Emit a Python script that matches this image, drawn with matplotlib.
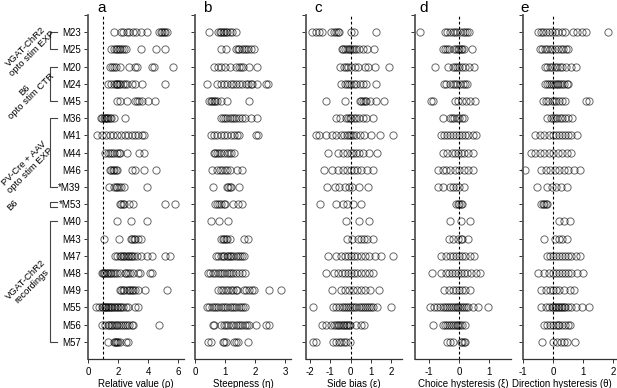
import matplotlib
matplotlib.use("Agg")
import matplotlib.pyplot as plt

plt.rcParams['font.family'] = ['Liberation Sans', 'DejaVu Sans']

mice = ["M23", "M25", "M20", "M24", "M45", "M36", "M41", "M44", "M46", "*M39",
        "*M53", "M40", "M43", "M47", "M48", "M49", "M55", "M56", "M57"]

groups = [("VGAT-ChR2\nopto stim EXP", 1, 2),
          ("B6\nopto stim CTR", 3, 5),
          ("PV-Cre + AAV\nopto stim EXP", 6, 10),
          ("B6", 11, 11),
          ("VGAT-ChR2\nrecordings", 12, 19)]

panel_letters = ["a", "b", "c", "d", "e"]
xlabels = ["Relative value (\u03c1)", "Steepness (\u03b7)", "Side bias (\u03b5)",
           "Choice hysteresis (\u03be)", "Direction hysteresis (\u03b8)"]
xticks = [[0, 2, 4, 6], [0, 1, 2, 3], [-2, -1, 0, 1, 2], [-1, 0, 1], [-1, 0, 1, 2]]
ref_lines = [1, None, 0, 0, 0]

rho = [
    [1.76, 2.2, 2.3, 2.6, 2.75, 3.0, 3.2, 3.5, 3.9, 4.75, 4.85, 4.95, 5.05, 5.15, 5.25],
    [1.5, 1.7, 1.85, 1.95, 2.05, 2.15, 2.25, 2.4, 2.55, 3.55, 4.5, 5.1],
    [1.45, 1.6, 1.75, 1.85, 2.15, 2.7, 3.1, 3.25, 4.25, 4.4, 5.65],
    [1.35, 1.55, 1.75, 1.85, 1.9, 1.95, 2.05, 2.15, 2.3, 2.45, 2.6, 2.9, 3.1, 3.6, 5.15],
    [1.95, 2.15, 2.6, 3.1, 3.25, 3.4, 3.6, 4.0, 4.45],
    [0.85, 0.95, 1.05, 1.1, 1.2, 1.25, 1.35, 1.45, 1.55, 1.75, 2.45],
    [0.58, 0.91, 1.2, 1.47, 1.69, 1.91, 2.18, 2.47, 2.69, 2.91, 3.13, 3.36, 3.58, 3.73],
    [1.1, 1.3, 1.45, 1.6, 1.75, 1.9, 2.05, 2.15, 2.6, 3.4, 3.75],
    [1.45, 1.55, 1.65, 1.75, 1.85, 1.95, 2.95, 3.1, 3.75, 4.55],
    [1.4, 1.75, 1.85, 1.95, 2.05, 2.2, 2.4, 3.95],
    [2.1, 2.2, 2.3, 2.4, 2.7, 3.0, 5.15, 5.8],
    [1.96, 2.84, 3.91],
    [1.05, 2.05, 2.85, 2.95, 3.05, 3.15, 3.3, 3.55],
    [1.8, 1.95, 2.1, 2.2, 2.3, 2.4, 2.55, 2.65, 2.75, 2.85, 2.95, 3.05, 3.25, 3.55, 3.9, 4.25, 5.15, 5.45],
    [0.9, 1.0, 1.05, 1.15, 1.25, 1.35, 1.45, 1.55, 1.65, 1.8, 1.95, 2.1, 2.45, 2.55, 2.65, 2.8, 3.0, 3.3, 3.45, 4.1, 4.25],
    [2.1, 2.2, 2.3, 2.4, 2.6, 2.7, 2.8, 2.9, 3.0, 3.15, 3.35, 3.8, 5.25],
    [0.55, 0.75, 0.9, 1.0, 1.1, 1.15, 1.2, 1.3, 1.35, 1.45, 1.5, 1.6, 1.7, 1.8, 1.9, 2.0, 2.1, 2.2, 2.35, 2.5, 2.65, 3.1, 3.3],
    [0.95, 1.15, 1.3, 1.4, 1.5, 1.6, 1.7, 1.85, 1.95, 2.05, 2.2, 2.3, 2.45, 2.6, 2.75, 2.9, 3.0, 4.7],
    [1.35, 1.7, 1.8, 1.85, 1.9, 2.0, 2.1, 2.55, 2.65],
]

eta = [
    [0.47, 0.75, 0.82, 0.88, 0.93, 0.98, 1.03, 1.08, 1.15, 1.22, 1.35],
    [0.85, 1.02, 1.35, 1.42, 1.48, 1.55, 1.62, 1.7, 1.78, 1.85, 1.95],
    [0.63, 0.75, 0.88, 1.0, 1.18, 1.35, 1.45, 1.52, 1.6, 1.8, 2.07],
    [0.41, 0.74, 0.86, 0.97, 1.08, 1.19, 1.27, 1.36, 1.47, 1.58, 1.69, 1.78, 1.86, 1.91, 2.08, 2.36, 2.44],
    [0.48, 0.53, 0.58, 0.62, 0.67, 0.72, 0.88, 1.08, 1.8],
    [0.85, 0.92, 1.0, 1.08, 1.15, 1.22, 1.3, 1.38, 1.45, 1.55, 1.65, 1.85, 2.07],
    [0.52, 0.63, 0.74, 0.86, 0.97, 1.08, 1.19, 1.3, 1.41, 1.47, 2.02, 2.11],
    [0.62, 0.68, 0.74, 0.8, 0.86, 0.98, 1.05, 1.12, 1.2, 1.3],
    [0.58, 0.74, 0.82, 0.91, 1.0, 1.08, 1.16, 1.41, 1.58],
    [0.6, 1.05, 1.1, 1.15, 1.2, 1.47],
    [0.65, 0.72, 0.8, 0.88, 0.95, 1.0, 1.25, 1.42, 1.58],
    [0.52, 0.8, 1.11],
    [0.88, 0.93, 0.98, 1.03, 1.08, 1.15, 1.63, 1.78],
    [0.7, 0.78, 0.85, 0.92, 0.98, 1.05, 1.1, 1.15, 1.2, 1.28, 1.35, 1.42, 1.5, 1.58, 1.63],
    [0.42, 0.5, 0.6, 0.68, 0.75, 0.82, 0.9, 0.98, 1.05, 1.12, 1.2, 1.28, 1.35, 1.45, 1.55, 1.65],
    [0.78, 0.86, 0.93, 1.02, 1.11, 1.19, 1.27, 1.36, 1.41, 1.63, 1.71, 1.8, 1.89, 1.97, 2.47, 2.86],
    [0.4, 0.48, 0.55, 0.62, 0.7, 0.78, 0.85, 0.92, 1.0, 1.08, 1.15, 1.22, 1.3, 1.38, 1.45, 1.52, 1.6, 1.65],
    [0.6, 0.62, 0.88, 0.95, 1.02, 1.1, 1.2, 1.28, 1.35, 1.42, 1.5, 1.58, 1.65, 1.72, 1.8, 2.03, 2.37, 2.47],
    [0.42, 0.52, 0.92, 0.98, 1.03, 1.3, 1.36, 1.42, 1.75],
]

eps = [
    [-1.9, -1.72, -1.56, -1.4, -0.95, -0.8, -0.7, -0.62, -0.55, 0.03, 0.15, 1.27],
    [-0.45, -0.38, -0.28, -0.18, -0.1, -0.02, 0.08, 0.18, 0.28, 0.4, 0.6, 0.8, 1.13],
    [-0.51, -0.34, -0.25, -0.13, 0.03, 0.2, 0.36, 0.69, 0.85, 1.18, 1.89],
    [-0.46, -0.3, -0.18, -0.08, 0.03, 0.15, 0.28, 0.44, 0.61, 0.77, 1.26],
    [-1.23, -0.3, 0.44, 0.52, 0.61, 0.69, 0.77, 0.93, 1.23, 1.62],
    [-0.7, -0.54, -0.25, -0.13, -0.05, 0.03, 0.15, 0.28, 0.41, 0.61, 0.77, 1.1],
    [-1.7, -1.55, -1.2, -0.9, -0.7, -0.5, -0.35, -0.2, -0.1, 0.0, 0.1, 0.25, 0.45, 0.65, 1.0, 1.45, 2.1],
    [-1.1, -0.6, -0.4, -0.2, 0.0, 0.1, 0.25, 0.4, 0.6, 0.9, 1.3],
    [-1.3, -0.9, -0.6, -0.4, -0.2, 0.0, 0.15, 0.3, 0.5, 0.8, 1.1],
    [-1.15, -0.75, -0.55, -0.3, -0.1, 0.05, 0.4, 0.85],
    [-1.5, -0.7, -0.4, -0.2, 0.1, 0.5],
    [-0.25, 0.4, 0.9],
    [-0.2, 0.05, 0.35, 0.5, 0.65, 0.8, 1.1],
    [-1.1, -0.7, -0.5, -0.3, -0.15, 0.0, 0.15, 0.3, 0.5, 0.7, 0.9, 1.2, 1.5, 2.1],
    [-1.2, -0.8, -0.6, -0.45, -0.3, -0.15, 0.0, 0.15, 0.3, 0.5, 0.7, 0.9, 1.1],
    [-0.9, -0.5, -0.3, -0.1, 0.1, 0.3, 0.5, 0.7, 0.95, 1.4],
    [-1.85, -0.85, -0.7, -0.55, -0.45, -0.35, -0.25, -0.15, -0.05, 0.05, 0.15, 0.25, 0.4, 0.5, 0.6, 0.7, 0.8, 0.9, 1.0, 1.1, 1.3, 1.97],
    [-1.4, -1.2, -0.95, -0.8, -0.7, -0.62, -0.55, -0.48, -0.4, -0.32, -0.25, -0.18, -0.1, -0.03, 0.28, 0.5, 0.68],
    [-1.86, -1.69, -0.87, -0.7, -0.57, -0.46, -0.34, -0.21, -0.05],
]

xi = [
    [-1.3, -0.47, -0.39, -0.3, -0.21, -0.13, -0.06, 0.03, 0.12, 0.2, 0.28, 0.34],
    [-0.55, -0.48, -0.4, -0.35, -0.17, -0.1, -0.05, 0.0, 0.05, 0.1, 0.17, 0.42],
    [-0.8, -0.36, -0.21, -0.13, -0.06, 0.01, 0.09, 0.2, 0.34, 0.5],
    [-0.52, -0.43, -0.32, -0.21, -0.13, -0.06, 0.03, 0.12, 0.2, 0.28],
    [-0.94, -0.86, -0.13, -0.02, 0.09, 0.23, 0.37, 0.53],
    [-0.54, -0.32, -0.24, -0.17, -0.08, 0.01, 0.09, 0.17],
    [-0.6, -0.5, -0.4, -0.3, -0.2, -0.1, 0.0, 0.1, 0.2, 0.3, 0.45, 0.55],
    [-0.55, -0.4, -0.25, -0.15, -0.05, 0.05, 0.15, 0.3, 0.45],
    [-0.7, -0.55, -0.45, -0.3, -0.15, 0.0, 0.15, 0.3, 0.45],
    [-0.7, -0.55, -0.3, -0.2, -0.1, 0.0, 0.15],
    [-0.1, -0.05, 0.0, 0.05, 0.1],
    [-0.3, 0.05, 0.35],
    [-0.35, -0.2, -0.05, 0.05, 0.1, 0.3],
    [-0.6, -0.45, -0.3, -0.2, -0.1, 0.0, 0.1, 0.2, 0.35, 0.5],
    [-0.9, -0.6, -0.45, -0.35, -0.25, -0.15, -0.05, 0.05, 0.15, 0.25, 0.4, 0.55, 0.7],
    [-0.5, -0.35, -0.2, -0.1, 0.0, 0.1, 0.2, 0.35],
    [-0.97, -0.85, -0.75, -0.65, -0.55, -0.47, -0.4, -0.33, -0.26, -0.2, -0.14, -0.08, -0.02, 0.04, 0.1, 0.16, 0.22, 0.3, 0.45, 0.62, 0.98],
    [-0.88, -0.55, -0.48, -0.4, -0.33, -0.26, -0.2, -0.14, -0.08, -0.02, 0.04, 0.1, 0.2],
    [-0.4, -0.3, -0.2, 0.05, 0.1, 0.15, 0.2],
]

theta = [
    [-0.49, -0.41, -0.33, -0.22, -0.13, -0.04, 0.07, 0.18, 0.31, 0.4, 0.67, 0.81, 0.96, 1.11, 1.84],
    [-0.44, -0.36, -0.27, -0.19, -0.11, -0.02, 0.07, 0.18, 0.26, 0.33, 0.42, 0.51],
    [-0.27, -0.19, -0.11, -0.02, 0.07, 0.14, 0.22, 0.31, 0.44, 0.59, 0.76],
    [-0.27, -0.2, -0.13, -0.06, 0.0, 0.06, 0.12, 0.18, 0.24, 0.3, 0.37, 0.45, 0.51],
    [-0.33, -0.24, -0.16, -0.04, 0.03, 0.11, 0.2, 0.31, 0.4, 1.09, 1.2],
    [-0.19, -0.08, 0.0, 0.07, 0.14, 0.22, 0.31, 0.4, 0.51, 0.62],
    [-0.6, -0.45, -0.3, -0.15, 0.0, 0.1, 0.2, 0.3, 0.4, 0.5, 0.6, 0.8],
    [-0.75, -0.6, -0.45, -0.3, -0.15, 0.0, 0.15, 0.3, 0.45, 0.6],
    [-0.95, -0.4, -0.25, -0.1, 0.05, 0.2, 0.35, 0.5, 0.7, 0.9],
    [-0.55, -0.2, -0.05, 0.1, 0.25, 0.45],
    [-0.4, -0.35, -0.3, -0.25, -0.2],
    [0.2, 0.35, 0.55],
    [-0.3, 0.05, 0.2, 0.3, 0.45],
    [-0.2, -0.1, 0.0, 0.1, 0.2, 0.3, 0.4, 0.5, 0.6, 0.75, 0.9],
    [-0.5, -0.3, -0.15, 0.0, 0.1, 0.2, 0.3, 0.4, 0.5, 0.6, 0.8, 1.0],
    [-0.4, -0.25, -0.1, 0.0, 0.1, 0.2, 0.35, 0.55, 0.7],
    [-0.4, -0.25, -0.15, -0.05, 0.0, 0.05, 0.1, 0.15, 0.2, 0.25, 0.3, 0.35, 0.4, 0.5, 0.6, 0.75, 0.95, 1.2],
    [-0.3, -0.2, -0.1, 0.0, 0.1, 0.15, 0.2, 0.3, 0.4, 0.5, 0.55],
    [-0.38, 0.0, 0.14, 0.26, 0.37, 0.48, 0.73],
]

panels = [rho, eta, eps, xi, theta]
xlims = [(0, 6.4), (0, 3.2), (-2.2, 2.53), (-1.47, 1.73), (-1.0, 2.2)]

W, H = 617, 388
fig = plt.figure(figsize=(W / 100, H / 100), dpi=100)
lefts_px = [88, 195, 306, 415, 523]
width_px = 96
top_px, bottom_px = 15, 359
xlabel_x = [0.5, 0.5, 0.5, 0.5, 0.41]

spine_col = '#555555'
axes = []
for k in range(5):
    ax = fig.add_axes([lefts_px[k] / W, (H - bottom_px) / H, width_px / W,
                       (bottom_px - top_px) / H])
    axes.append(ax)
    data = panels[k]
    for i, vals in enumerate(data):
        ax.plot(vals, [i + 1] * len(vals), 'o', ms=5.2, mfc='none',
                mec='black', mew=0.7, alpha=0.6, clip_on=False)
    if ref_lines[k] is not None:
        ax.axvline(ref_lines[k], color='black', lw=0.8, ls=(0, (2.5, 2.0)), zorder=0)
    ax.set_xlim(*xlims[k])
    ax.set_ylim(len(mice) + 1, 0)
    ax.set_yticks(range(0, len(mice) + 1))
    if k == 0:
        ax.set_yticklabels([""] + mice, fontsize=7)
    else:
        ax.set_yticklabels([])
    ax.set_xticks(xticks[k])
    ax.set_xticklabels([str(t) for t in xticks[k]], fontsize=7)
    ax.set_xlabel(xlabels[k], fontsize=7)
    ax.xaxis.set_label_coords(xlabel_x[k], -20 / (bottom_px - top_px))
    for s in ['top', 'right']:
        ax.spines[s].set_visible(False)
    ax.spines['left'].set_color(spine_col)
    ax.spines['left'].set_linewidth(1.3)
    ax.spines['bottom'].set_color('#333333')
    ax.spines['bottom'].set_linewidth(0.9)
    ax.tick_params(direction='out', length=3, width=0.7, color='#333333', pad=2)
    ax.tick_params(axis='x', pad=3)
    ax.patch.set_alpha(0)

letter_x = [102, 207, 318, 424, 525]
for k in range(5):
    fig.text(letter_x[k] / W, (H - 12) / H, panel_letters[k], fontsize=11,
             ha='center', va='baseline')

# group brackets and labels
ax0 = axes[0]
trans = ax0.get_yaxis_transform()
bx = (50 - 88) / width_px
bx2 = (57 - 88) / width_px
label_pos = [(29, 50), (28, 93), (27, 167), (13, 205), (29, 283)]
for (name, r0, r1), (lx, ly) in zip(groups, label_pos):
    if r0 == r1:
        y0, y1 = r0 - 0.15, r1 + 0.15
    else:
        y0, y1 = r0, r1
    ax0.plot([bx2, bx, bx, bx2], [y0, y0, y1, y1], color='#444444', lw=0.8,
             transform=trans, clip_on=False)
    fig.text(lx / W, (H - ly) / H, name, rotation=45, ha='center', va='center',
             fontsize=6.8, multialignment='center', linespacing=1.0)

fig.savefig("out.png", dpi=100)
